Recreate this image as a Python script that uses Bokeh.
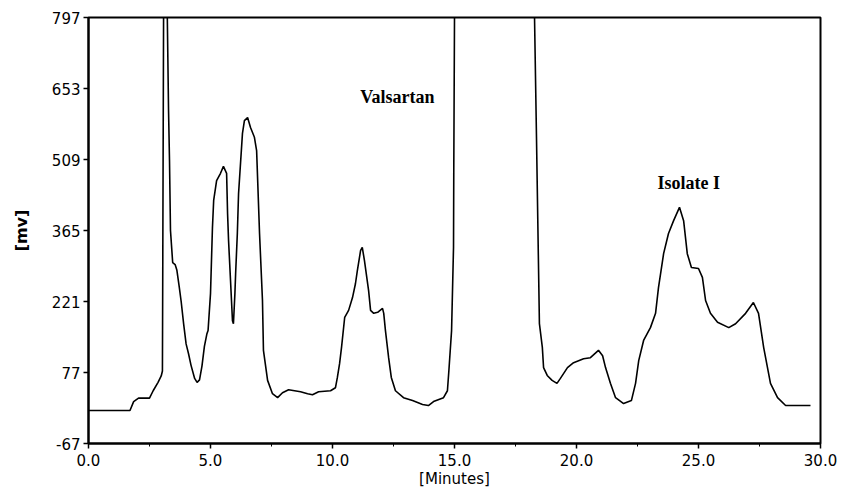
from bokeh.plotting import figure
from bokeh.models import FixedTicker, PrintfTickFormatter, Range1d, Label
from bokeh.embed import file_html
from bokeh.resources import INLINE

# Chromatogram trace: retention time (minutes) and detector response (mV)
time_min = [0.0, 1.70, 1.85, 2.05, 2.50, 2.65, 2.85, 2.98, 3.03, 3.09, 3.18, 3.23, 3.28, 3.32, 3.36,
            3.45, 3.55, 3.62, 3.72, 3.80, 3.90, 4.00, 4.10, 4.20, 4.35, 4.45, 4.55, 4.65, 4.75, 4.85,
            4.90, 5.00, 5.08, 5.13, 5.25, 5.41, 5.53, 5.66, 5.70, 5.74, 5.82, 5.90, 5.94, 6.00, 6.03,
            6.10, 6.15, 6.31, 6.39, 6.52, 6.64, 6.80, 6.89, 7.01, 7.13, 7.17, 7.34, 7.54, 7.75, 7.95,
            8.20, 8.69, 8.98, 9.18, 9.43, 9.92, 10.12, 10.20, 10.29, 10.37, 10.50, 10.66, 10.82, 10.94,
            11.02, 11.15, 11.22, 11.31, 11.48, 11.56, 11.69, 11.85, 12.05, 12.10, 12.17, 12.30, 12.41,
            12.58, 12.91, 13.28, 13.69, 13.93, 14.14, 14.55, 14.71, 14.77, 14.88, 14.96, 14.97, 15.00,
            15.05, 18.20, 18.28, 18.36, 18.48, 18.60, 18.65, 18.80, 19.00, 19.20, 19.34, 19.63, 19.88,
            20.29, 20.57, 20.90, 21.07, 21.19, 21.39, 21.60, 21.93, 22.25, 22.42, 22.55, 22.75, 23.03,
            23.24, 23.36, 23.57, 23.77, 23.98, 24.22, 24.39, 24.54, 24.71, 25.00, 25.16, 25.29, 25.49,
            25.78, 26.24, 26.52, 26.93, 27.25, 27.46, 27.67, 27.95, 28.24, 28.57, 29.59]
signal_mv = [0, 0, 18, 25, 25, 40, 57, 70, 80, 1000, 1000, 797, 610, 507, 365,
             300, 296, 285, 250, 220, 175, 135, 115, 92, 65, 57, 62, 90, 130, 155,
             162, 237, 371, 426, 466, 481, 495, 481, 399, 345, 264, 182, 176, 237, 278,
             359, 440, 562, 588, 594, 574, 554, 527, 359, 223, 122, 61, 34, 26, 36,
             42, 38, 34, 32, 38, 40, 46, 67, 95, 128, 189, 203, 229, 257,
             284, 324, 331, 304, 243, 203, 197, 199, 207, 197, 162, 107, 67,
             40, 26, 20, 12, 10, 18, 26, 40, 81, 162, 331, 481, 797,
             1000, 1000, 797, 554, 176, 128, 87, 71, 61, 55, 65, 87, 97,
             105, 107, 122, 111, 87, 55, 26, 14, 20, 55, 101, 142, 168,
             197, 249, 318, 359, 385, 412, 385, 318, 290, 288, 270, 223, 197,
             179, 168, 176, 197, 219, 197, 128, 55, 26, 10, 10]

x_ticks = [0, 5, 10, 15, 20, 25, 30]
x_minor = [2.5, 7.5, 12.5, 17.5, 22.5, 27.5]
y_ticks = [-67, 77, 221, 365, 509, 653, 797]

peak_names = ["Valsartan", "Isolate I"]
peak_label_x = [12.66, 24.6]
peak_label_y = [635, 462]

p = figure(width=843, height=491, output_backend="svg", toolbar_location=None,
           x_range=Range1d(0, 30), y_range=Range1d(-67, 797),
           min_border_left=88, min_border_right=23, min_border_top=17, min_border_bottom=48)

p.line(time_min, signal_mv, line_color="black", line_width=1.6)

for name, lx, ly in zip(peak_names, peak_label_x, peak_label_y):
    p.add_layout(Label(x=lx, y=ly, text=name, text_font="Liberation Serif",
                       text_font_style="bold", text_font_size="18px",
                       text_align="center", text_baseline="middle", text_color="black"))

p.grid.visible = False
p.background_fill_color = "white"
p.border_fill_color = "white"
p.outline_line_color = "black"
p.outline_line_width = 2

p.xaxis.ticker = FixedTicker(ticks=x_ticks, minor_ticks=x_minor)
p.xaxis.formatter = PrintfTickFormatter(format="%.1f")
p.yaxis.ticker = FixedTicker(ticks=y_ticks)
p.yaxis.formatter = PrintfTickFormatter(format="%d")

for ax in (p.xaxis, p.yaxis):
    ax.axis_line_color = "black"
    ax.axis_line_width = 2
    ax.major_tick_line_color = "black"
    ax.major_tick_line_width = 1.5
    ax.major_tick_out = 5
    ax.major_tick_in = 0
    ax.minor_tick_line_color = "black"
    ax.minor_tick_out = 3
    ax.minor_tick_in = 0
    ax.major_label_text_font = "DejaVu Sans"
    ax.major_label_text_font_size = "15px"
    ax.major_label_text_color = "black"
    ax.axis_label_text_color = "black"

p.yaxis.minor_tick_line_color = None
p.xaxis.major_label_standoff = 5
p.yaxis.major_label_standoff = 3

p.xaxis.axis_label = "[Minutes]"
p.xaxis.axis_label_text_font = "DejaVu Sans"
p.xaxis.axis_label_text_font_style = "normal"
p.xaxis.axis_label_text_font_size = "15px"
p.xaxis.axis_label_standoff = 1

p.yaxis.axis_label = "[mv]"
p.yaxis.axis_label_text_font = "DejaVu Sans"
p.yaxis.axis_label_text_font_style = "bold"
p.yaxis.axis_label_text_font_size = "16px"
p.yaxis.axis_label_standoff = 18

open("out.html", "w").write(file_html(p, INLINE))
